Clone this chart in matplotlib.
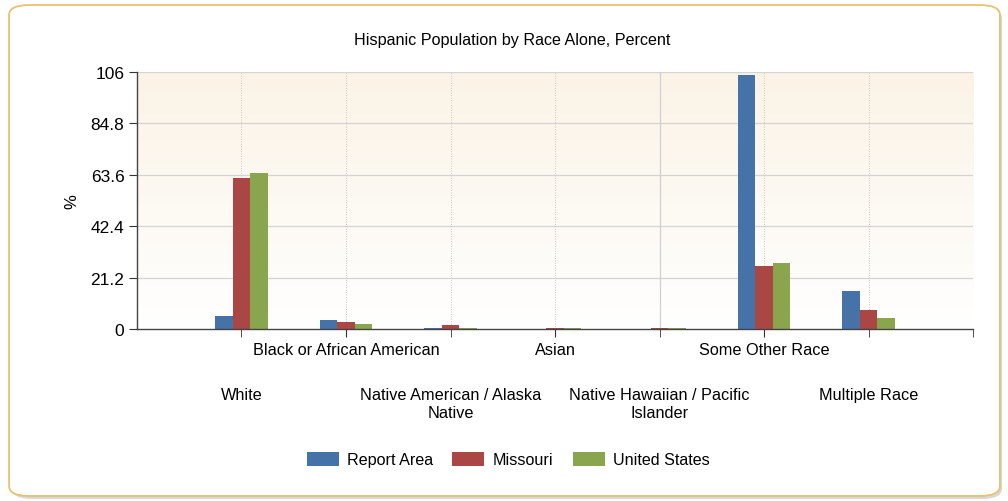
import numpy as np
import matplotlib
matplotlib.use("Agg")
import matplotlib.pyplot as plt
from matplotlib.patches import FancyBboxPatch, Patch

plt.rcParams['font.family'] = ['Liberation Sans', 'DejaVu Sans']

categories = ["White", "Black or African American", "Native American / Alaska\nNative",
              "Asian", "Native Hawaiian / Pacific\nIslander", "Some Other Race", "Multiple Race"]
series = ["Report Area", "Missouri", "United States"]
report_area = [5.2, 3.8, 0.5, 0.1, 0.1, 104.7, 15.8]
missouri = [62.1, 2.7, 1.5, 0.6, 0.6, 26.1, 7.9]
united_states = [64.5, 2.0, 0.6, 0.5, 0.4, 27.2, 4.4]
yticks = [0, 21.2, 42.4, 63.6, 84.8, 106]
colors = ["#4572a7", "#aa4643", "#89a54e"]

fig = plt.figure(figsize=(10.08, 5.02), dpi=100)

# rounded golden frame with a soft shadow
shadow = FancyBboxPatch((0.012, 0.004), 0.982, 0.978, boxstyle="round,pad=0,rounding_size=0.02",
                        transform=fig.transFigure, facecolor="#d8d8d8", edgecolor="none", zorder=0)
frame = FancyBboxPatch((0.009, 0.010), 0.983, 0.978, boxstyle="round,pad=0,rounding_size=0.02",
                       transform=fig.transFigure, facecolor="white", edgecolor="#e8c26e", lw=1.3, zorder=1)
fig.patches.extend([shadow, frame])

ax = fig.add_axes([0.1359, 0.3426, 0.8294, 0.512])
ax.set_zorder(2)
ax.patch.set_alpha(0)

x = np.arange(len(categories))
w = 0.167
for i, (vals, name) in enumerate(zip([report_area, missouri, united_states], series)):
    ax.bar(x + (i - 1) * w, vals, width=w, color=colors[i], label=name, zorder=3)

ax.set_xlim(-1, 7)
ax.set_ylim(0, 106)

# background gradient (beige at top to white)
grad = np.linspace(1, 0, 256).reshape(-1, 1)
top = np.array([0.984, 0.953, 0.902])
img = np.ones((256, 1, 3)) * (1 - grad[..., None]) + top * grad[..., None]
ax.imshow(img, extent=[-1, 7, 0, 106], aspect="auto", zorder=0)

for y in yticks[1:]:
    ax.axhline(y, color="#d4d4d4", lw=0.9, zorder=1)
for xv in list(x) + [7]:
    if xv == 4:
        ax.axvline(xv, color="#d0d0d0", lw=0.9, zorder=1)
    else:
        ax.axvline(xv, color="#c8c8c8", lw=0.7, ls=(0, (1, 1.5)), zorder=1)

ax.set_yticks(yticks)
ax.set_yticklabels(["0", "21.2", "42.4", "63.6", "84.8", "106"])
odd = x[1::2]
even = x[0::2]
ax.set_xticks(odd)
ax.set_xticklabels([categories[i] for i in odd])
ax.set_xticks(list(even) + [7], minor=True)
ax.set_xticklabels([categories[i] for i in even] + [""], minor=True)
ax.tick_params(axis="x", which="both", length=6, color="#333333", labelsize=11.7, direction="out")
ax.tick_params(axis="x", which="major", pad=3)
ax.tick_params(axis="x", which="minor", pad=36)
ax.tick_params(axis="y", length=6, color="#333333", labelsize=12.5, pad=3)
for lab in ax.get_xticklabels(minor=True):
    lab.set_verticalalignment("top")
    lab.set_multialignment("center")

for s in ["top", "right"]:
    ax.spines[s].set_visible(False)
for s in ["left", "bottom"]:
    ax.spines[s].set_color("#444444")
    ax.spines[s].set_linewidth(1.0)
    ax.spines[s].set_zorder(4)

ax.set_ylabel("%", fontsize=12, labelpad=8)
fig.text(0.508, 0.92, "Hispanic Population by Race Alone, Percent", fontsize=11.6,
         ha="center", va="center")

handles = [Patch(facecolor=c, label=s) for c, s in zip(colors, series)]
fig.legend(handles=handles, loc="center", bbox_to_anchor=(0.504, 0.082), ncol=3, frameon=False,
           fontsize=11.6, handlelength=2.0, handleheight=0.9, handletextpad=0.5, columnspacing=1.2)

fig.savefig("out.png", dpi=100)
